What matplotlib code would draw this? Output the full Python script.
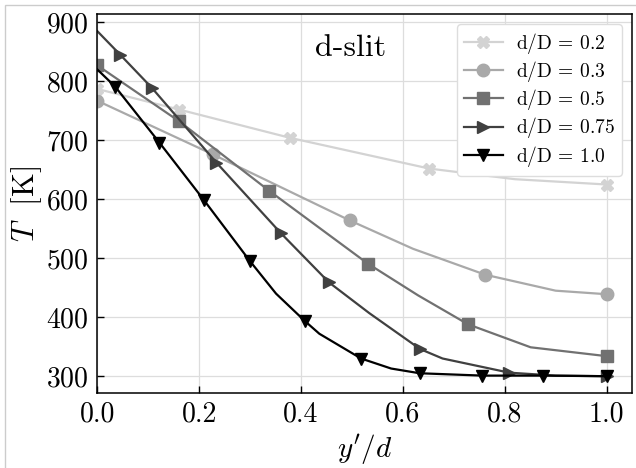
import numpy as np
import matplotlib
matplotlib.use("Agg")
import matplotlib.pyplot as plt
from matplotlib.patches import Rectangle

plt.rcParams['font.family'] = 'serif'
plt.rcParams['font.serif'] = ['cmr10']
plt.rcParams['mathtext.fontset'] = 'cm'
plt.rcParams['axes.formatter.use_mathtext'] = True

# d/D = 0.2
x_02 = [0.0, 0.161, 0.379, 0.652, 0.82, 1.0]
T_02 = [787, 752, 704, 652, 634, 625]
mk_02 = [0, 1, 2, 3, 5]

# d/D = 0.3
x_03 = [0.0, 0.227, 0.496, 0.62, 0.762, 0.9, 1.0]
T_03 = [767, 676, 564, 516, 472, 445, 439]
mk_03 = [0, 1, 2, 4, 6]

# d/D = 0.5
x_05 = [0.0, 0.161, 0.338, 0.531, 0.63, 0.728, 0.851, 1.0]
T_05 = [827, 732, 614, 491, 437, 388, 349, 334]
mk_05 = [0, 1, 2, 3, 5, 7]

# d/D = 0.75
x_075 = [0.0, 0.045, 0.107, 0.234, 0.361, 0.455, 0.534, 0.634, 0.678, 0.809, 0.9, 1.0]
T_075 = [885, 845, 789, 662, 542, 459, 407, 346, 330, 306, 301, 300]
mk_075 = [1, 2, 3, 4, 5, 7, 9, 11]

# d/D = 1.0
x_10 = [0.0, 0.035, 0.122, 0.209, 0.299, 0.351, 0.407, 0.436, 0.518, 0.577, 0.633, 0.756, 0.875, 1.0]
T_10 = [820, 791, 696, 599, 496, 440, 394, 372, 330, 313, 305, 301, 301, 300]
mk_10 = [1, 2, 3, 4, 6, 8, 10, 11, 12, 13]

series = [
    (x_02, T_02, mk_02, 'X', '#d3d3d3', r'$\mathrm{d/D}$ = 0.2'),
    (x_03, T_03, mk_03, 'o', '#a9a9a9', r'$\mathrm{d/D}$ = 0.3'),
    (x_05, T_05, mk_05, 's', '#717171', r'$\mathrm{d/D}$ = 0.5'),
    (x_075, T_075, mk_075, '>', '#404040', r'$\mathrm{d/D}$ = 0.75'),
    (x_10, T_10, mk_10, 'v', '#000000', r'$\mathrm{d/D}$ = 1.0'),
]

fig = plt.figure(figsize=(6.36, 4.68), dpi=100)
ax = fig.add_axes([0.153, 0.1596, 0.8407, 0.8104])

for xs, ts, mk, m, c, lab in series:
    ax.plot(xs, ts, color=c, marker=m, markevery=mk, markersize=9,
            linewidth=1.6, label=lab)

ax.set_xlim(0, 1.05)
ax.set_ylim(271, 914)
ax.set_xticks([0.0, 0.2, 0.4, 0.6, 0.8, 1.0])
ax.set_xticklabels(['0.0', '0.2', '0.4', '0.6', '0.8', '1.0'])
ax.set_yticks([300, 400, 500, 600, 700, 800, 900])
ax.tick_params(direction='in', length=5, width=1, labelsize=20, pad=6)
ax.grid(True, color='#dddddd', linewidth=0.9)
ax.set_axisbelow(True)
for s in ax.spines.values():
    s.set_linewidth(1.1)

ax.set_xlabel(r"$y'/d$", fontsize=21, labelpad=3)
ax.set_ylabel(r"$T\ $ [K]", fontsize=22, labelpad=2)
ax.text(0.474, 0.91, 'd-slit', transform=ax.transAxes, fontsize=23,
        ha='center', va='center')

leg = ax.legend(loc='upper right', fontsize=14, handlelength=2.0,
                labelspacing=0.17, borderpad=0.35, handletextpad=0.7,
                edgecolor='#dddddd', fancybox=True, framealpha=1)

fig.patches.append(Rectangle((5 / 636, -0.2), 1.2, 1.2 - 5 / 468,
                             transform=fig.transFigure, fill=False,
                             edgecolor='#cccccc', linewidth=1))

fig.savefig('out.png', dpi=100)
